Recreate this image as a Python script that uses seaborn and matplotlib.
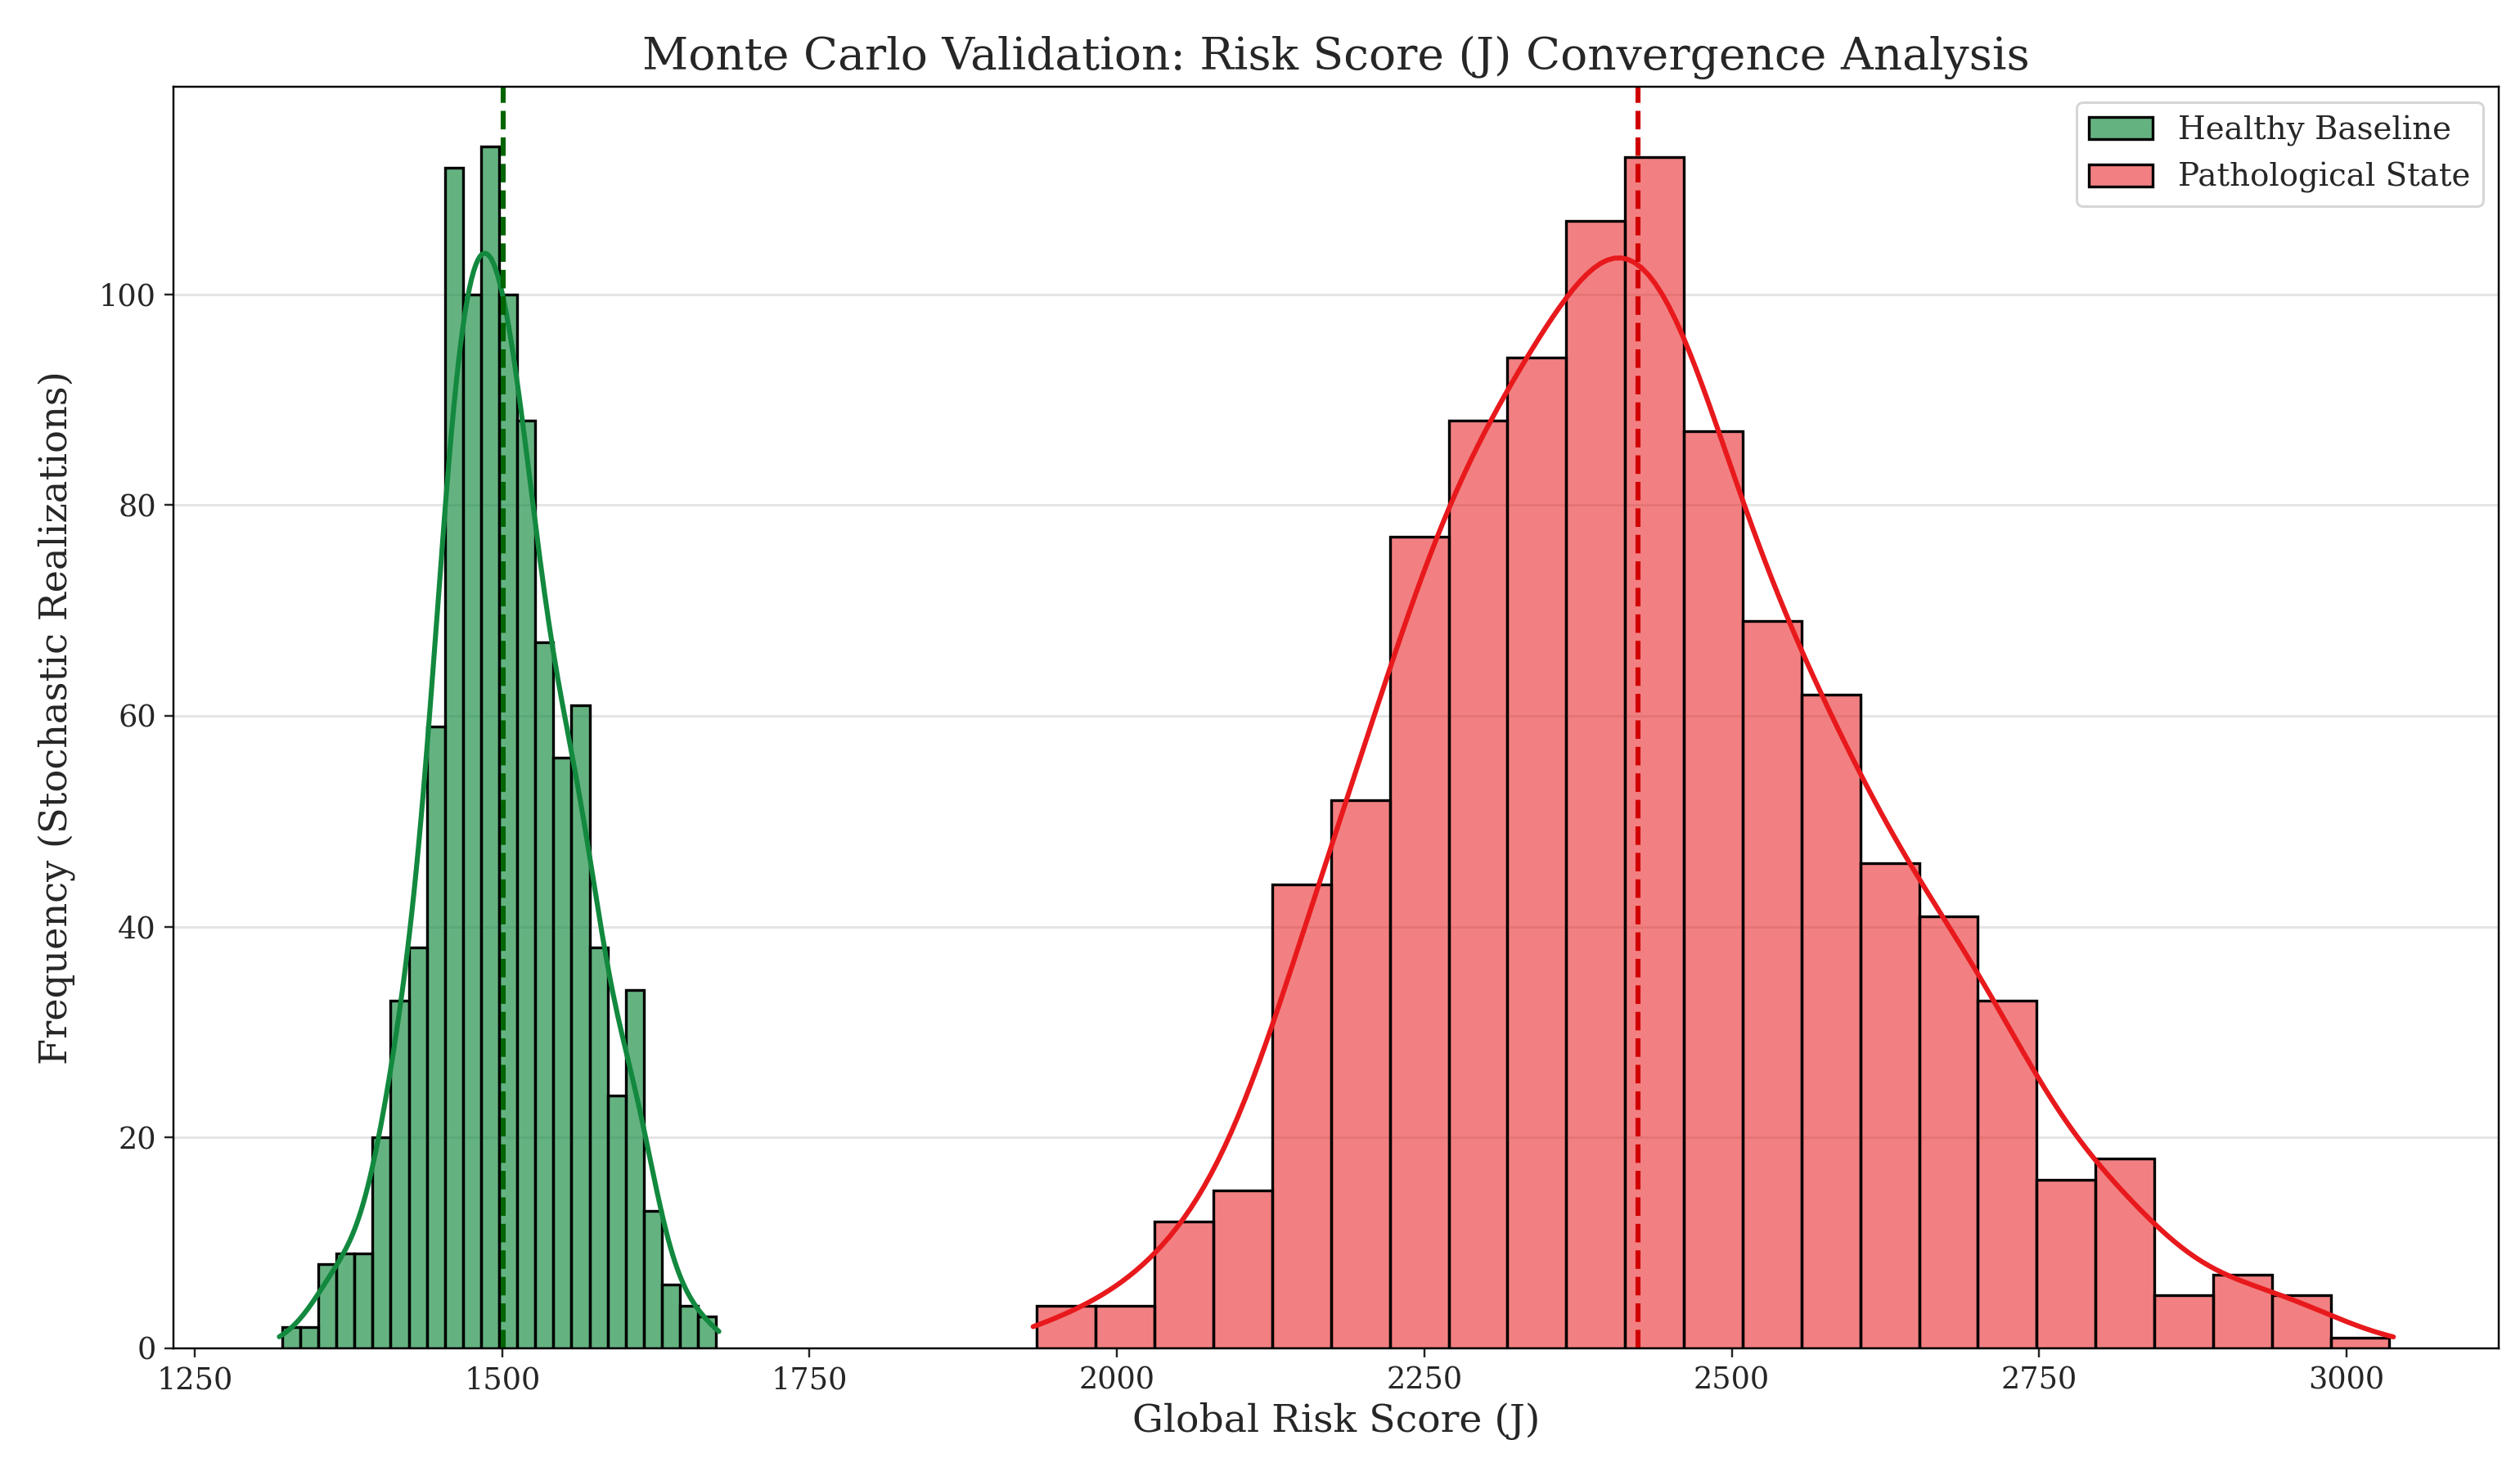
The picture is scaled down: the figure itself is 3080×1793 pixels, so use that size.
import numpy as np
import pandas as pd
import matplotlib
matplotlib.use("Agg")
import matplotlib.pyplot as plt
import seaborn as sns

# ---- data ----
healthy_label = "Healthy Baseline"
patho_label = "Pathological State"

healthy_range = (1321.0, 1674.0)
healthy_counts = [2, 2, 8, 9, 9, 20, 33, 38, 59, 112, 100, 114,
                  100, 88, 67, 56, 61, 38, 24, 34, 13, 6, 4, 3]

patho_range = (1935.0, 3035.0)
patho_counts = [4, 4, 12, 15, 44, 52, 77, 88, 94, 107, 113, 87,
                69, 62, 46, 41, 33, 16, 18, 5, 7, 5, 1]

healthy_mean = 1501.0
patho_mean = 2424.0

yticks = [0, 20, 40, 60, 80, 100]
xticks = [1250, 1500, 1750, 2000, 2250, 2500, 2750, 3000]

title = "Monte Carlo Validation: Risk Score (J) Convergence Analysis"
xlabel = "Global Risk Score (J)"
ylabel = "Frequency (Stochastic Realizations)"


def rebuild(rng, counts):
    edges = np.linspace(rng[0], rng[1], len(counts) + 1)
    centers = 0.5 * (edges[:-1] + edges[1:])
    return edges, np.repeat(centers, counts)


h_edges, h_vals = rebuild(healthy_range, healthy_counts)
p_edges, p_vals = rebuild(patho_range, patho_counts)

sns.set_style("ticks")
plt.rcParams["font.family"] = ["DejaVu Serif"]

fig = plt.figure(figsize=(14, 8.15), dpi=220)
ax = fig.add_axes([0.0689, 0.081, 0.9228, 0.8599])

green = "#12893e"
red = "#e8191c"

sns.histplot(x=h_vals, bins=h_edges, color=green, alpha=0.65, kde=True,
             edgecolor="black", linewidth=1.1, label=healthy_label,
             kde_kws={"cut": 0.55, "bw_adjust": 1.2},
             line_kws={"linewidth": 2.0}, ax=ax)
sns.histplot(x=p_vals, bins=p_edges, color=red, alpha=0.55, kde=True,
             edgecolor="black", linewidth=1.1, label=patho_label,
             kde_kws={"cut": 0.55, "bw_adjust": 1.05},
             line_kws={"linewidth": 2.0}, ax=ax)

ax.axvline(healthy_mean, color="#006400", linestyle="--", linewidth=2.0)
ax.axvline(patho_mean, color="#d00000", linestyle="--", linewidth=2.0)

ax.set_xticks(xticks)
ax.set_yticks(yticks)
ax.tick_params(labelsize=12)
ax.yaxis.grid(True, color="#e5e5e5", linewidth=1.0)
ax.set_axisbelow(True)
for s in ax.spines.values():
    s.set_visible(True)
    s.set_color("black")

ax.set_title(title, fontsize=18, pad=7)
ax.set_xlabel(xlabel, fontsize=15.5, labelpad=3)
ax.set_ylabel(ylabel, fontsize=15.2, labelpad=9)
ax.legend(loc="upper right", fontsize=12.7, frameon=True)

fig.savefig("out.png", dpi=220)
